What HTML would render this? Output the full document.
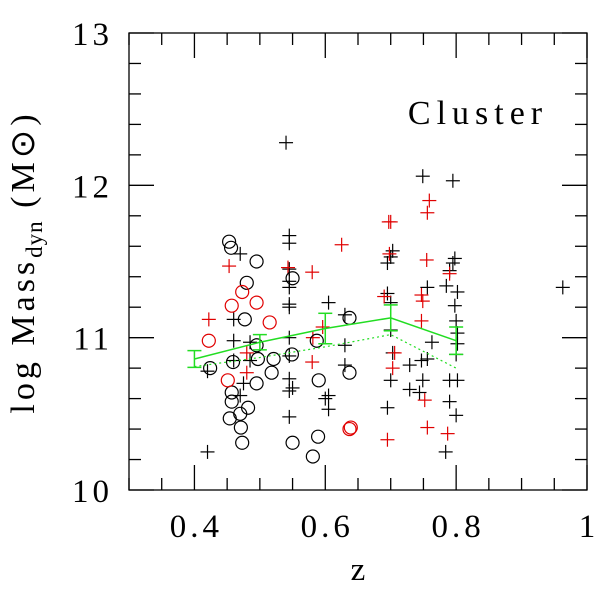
<!DOCTYPE html>
<html><head><meta charset="utf-8"><style>
html,body{margin:0;padding:0;background:#fff;width:600px;height:600px;overflow:hidden}
svg{display:block}
text{font-family:"Liberation Serif",serif;fill:#000}
</style></head><body>
<svg id="chart" width="600" height="600"></svg>
<script>
const blackCrossX=[0.42,0.54,0.545,0.545,0.47,0.545,0.545,0.545,0.545,0.545,0.605,0.46,0.63,0.545,0.46,0.485,0.63,0.545,0.63,0.42,0.46,0.485,0.545,0.55,0.545,0.475,0.47,0.605,0.605,0.545,0.6,
0.749,0.795,0.703,0.70,0.695,0.798,0.795,0.79,0.756,0.785,0.802,0.695,0.70,0.798,0.8,0.70,0.802,0.763,0.802,0.8,0.703,0.729,0.747,0.756,0.749,0.70,0.79,0.802,0.729,0.744,0.79,0.8,0.695,0.784,0.963];
const blackCrossY=[10.25,12.28,11.67,11.62,11.55,11.45,11.37,11.33,11.22,11.2,11.23,11.12,11.15,11.0,10.98,10.97,10.95,10.88,10.82,10.78,10.85,10.85,10.73,10.67,10.65,10.7,10.62,10.62,10.53,10.48,10.6,
12.06,12.03,11.57,11.53,11.49,11.52,11.49,11.44,11.33,11.34,11.3,11.29,11.23,11.21,11.11,11.05,11.03,10.97,10.96,10.89,10.9,10.82,10.85,10.86,10.72,10.72,10.72,10.72,10.66,10.64,10.58,10.49,10.54,10.25,11.33];
const redCrossX=[0.625,0.453,0.58,0.543,0.422,0.48,0.48,0.58,0.581,0.596,0.70,0.697,0.759,0.756,0.698,0.755,0.79,0.69,0.747,0.749,0.747,0.706,0.703,0.752,0.756,0.787,0.695];
const redCrossY=[11.61,11.47,11.43,11.46,11.12,10.9,10.77,10.84,11.0,11.07,11.76,11.76,11.9,11.82,11.55,11.51,11.42,11.27,11.28,11.24,11.11,10.9,10.8,10.59,10.41,10.37,10.33];
const blackCircleX=[0.453,0.456,0.495,0.55,0.48,0.477,0.637,0.495,0.587,0.459,0.497,0.521,0.549,0.424,0.518,0.59,0.637,0.495,0.457,0.457,0.482,0.47,0.454,0.471,0.473,0.55,0.589,0.581];
const blackCircleY=[11.63,11.59,11.5,11.39,11.36,11.12,11.13,10.95,10.98,10.84,10.86,10.86,10.89,10.8,10.77,10.72,10.77,10.7,10.64,10.58,10.54,10.5,10.47,10.41,10.31,10.31,10.35,10.22];
const redCircleX=[0.473,0.457,0.495,0.515,0.422,0.451,0.637,0.639];
const redCircleY=[11.3,11.21,11.23,11.1,10.98,10.72,10.4,10.41];
const meanX=[0.4,0.5,0.6,0.7,0.8];
const meanY=[10.86,10.97,11.06,11.13,10.98];
const meanErr=[0.055,0.05,0.1,0.085,0.09];
const medianY=[10.81,10.87,10.94,11.02,10.8];
const xTicks=[0.4,0.6,0.8,1];
const xTickLabels=["0.4","0.6","0.8","1"];
const yTicks=[10,11,12,13];
const yTickLabels=["10","11","12","13"];

const L=129,R=587,T=33,B=490,X0=0.3,X1=1.0,Y0=10,Y1=13;
const sx=v=>L+(v-X0)/(X1-X0)*(R-L);
const sy=v=>B-(v-Y0)/(Y1-Y0)*(B-T);
const svg=document.getElementById('chart');
const NS='http://www.w3.org/2000/svg';
function mk(tag,attrs,parent){const e=document.createElementNS(NS,tag);for(const k in attrs)e.setAttribute(k,attrs[k]);(parent||svg).appendChild(e);return e;}

const frame=mk('rect',{x:L,y:T,width:R-L,height:B-T,fill:'none',stroke:'#000','stroke-width':1.3});



const tg=mk('g',{stroke:'#000','stroke-width':1.3});


for(let i=0;i<=14;i++){const v=0.3+i*0.05;const x=sx(v);const len=(i%4===2)?25:12;
  mk('line',{x1:x,y1:B,x2:x,y2:B-len},tg);mk('line',{x1:x,y1:T,x2:x,y2:T+len},tg);}
for(let i=0;i<=15;i++){const v=10+i*0.2;const y=sy(v);const len=(i%5===0)?25:12;
  mk('line',{x1:L,y1:y,x2:L+len,y2:y},tg);mk('line',{x1:R,y1:y,x2:R-len,y2:y},tg);}

xTicks.forEach((v,i)=>{const t=mk('text',{x:sx(v)+2,y:537,'font-size':33,'letter-spacing':4,'text-anchor':'middle'});t.textContent=xTickLabels[i];
  
  });
yTicks.forEach((v,i)=>{const t=mk('text',{x:113,y:sy(v)+12,'font-size':33,'letter-spacing':4,'text-anchor':'end'});t.textContent=yTickLabels[i];
  
  });

const xt=mk('text',{x:358,y:580,'font-size':33,'text-anchor':'middle'});xt.textContent='z';


const yt=mk('text',{x:0,y:0,'font-size':34,'letter-spacing':4,'text-anchor':'middle',transform:'translate(34,262) rotate(-90)'});
yt.innerHTML='log Mass<tspan font-size="23" dy="8" letter-spacing="1">dyn</tspan><tspan dy="-8"> (M</tspan><tspan>⊙</tspan><tspan>)</tspan>';


const lab=mk('text',{x:478,y:124,'font-size':34,'letter-spacing':6,'text-anchor':'middle'});lab.textContent='Cluster';



function cross(x,y,c,name){const g=mk('g',{stroke:c,'stroke-width':1.2});
  
  
  mk('line',{x1:sx(x)-7,y1:sy(y),x2:sx(x)+7,y2:sy(y)},g);mk('line',{x1:sx(x),y1:sy(y)-7,x2:sx(x),y2:sy(y)+7},g);}
function circ(x,y,c,name){const e=mk('circle',{cx:sx(x),cy:sy(y),r:6.5,fill:'none',stroke:c,'stroke-width':1.2});
  
  }
blackCrossX.forEach((x,i)=>cross(x,blackCrossY[i],'#000','black-cross-point'));
redCrossX.forEach((x,i)=>cross(x,redCrossY[i],'#e00000','red-cross-point'));
blackCircleX.forEach((x,i)=>circ(x,blackCircleY[i],'#000','black-circle-point'));
redCircleX.forEach((x,i)=>circ(x,redCircleY[i],'#e00000','red-circle-point'));

const ml=mk('polyline',{points:meanX.map((x,i)=>sx(x)+','+sy(meanY[i])).join(' '),fill:'none',stroke:'#22dd22','stroke-width':1.5});


const dl=mk('polyline',{points:meanX.map((x,i)=>sx(x)+','+sy(medianY[i])).join(' '),fill:'none',stroke:'#22dd22','stroke-width':1.2,'stroke-dasharray':'2,3'});


meanX.forEach((x,i)=>{const g=mk('g',{stroke:'#22dd22','stroke-width':1.5});
  
  
  const cx=sx(x),y1=sy(meanY[i]+meanErr[i]),y2=sy(meanY[i]-meanErr[i]);
  mk('line',{x1:cx,y1:y1,x2:cx,y2:y2},g);mk('line',{x1:cx-7,y1:y1,x2:cx+7,y2:y1},g);mk('line',{x1:cx-7,y1:y2,x2:cx+7,y2:y2},g);});
</script>
</body></html>
